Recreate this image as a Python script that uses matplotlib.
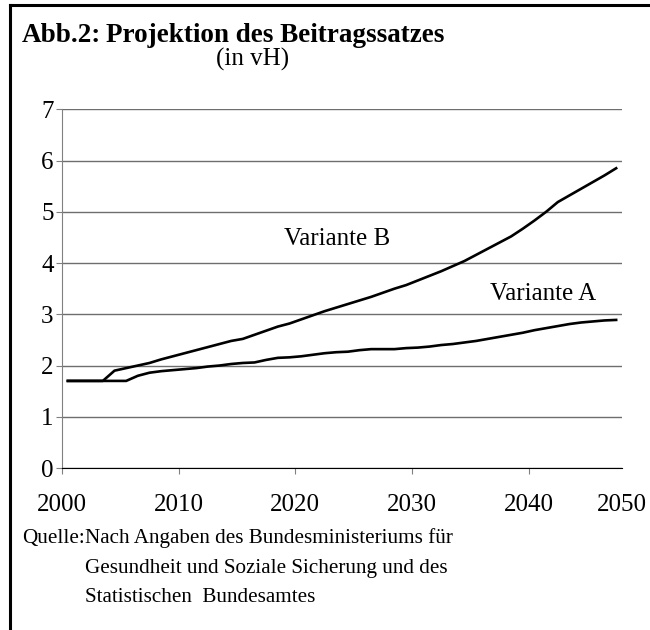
import numpy as np
import matplotlib
matplotlib.use("Agg")
import matplotlib.pyplot as plt
from matplotlib.lines import Line2D

plt.rcParams.update({'font.family': 'Liberation Serif', 'font.size': 18})

# Jahre 2001..2048, je Kategorie in der Mitte gezeichnet
years = np.arange(2001, 2049)
variante_a = [1.70, 1.70, 1.70, 1.70, 1.70, 1.70, 1.80, 1.86, 1.89, 1.91,
              1.93, 1.95, 1.98, 2.00, 2.03, 2.05, 2.06, 2.11, 2.15, 2.16,
              2.18, 2.21, 2.24, 2.26, 2.27, 2.30, 2.32, 2.32, 2.32, 2.34,
              2.35, 2.37, 2.40, 2.42, 2.45, 2.48, 2.52, 2.56, 2.60, 2.64,
              2.69, 2.73, 2.77, 2.81, 2.84, 2.86, 2.88, 2.89]
variante_b = [1.70, 1.70, 1.70, 1.70, 1.90, 1.95, 2.00, 2.05, 2.12, 2.18,
              2.24, 2.30, 2.36, 2.42, 2.48, 2.52, 2.60, 2.68, 2.76, 2.82,
              2.90, 2.98, 3.06, 3.13, 3.20, 3.27, 3.34, 3.42, 3.50, 3.57,
              3.66, 3.75, 3.84, 3.94, 4.04, 4.16, 4.28, 4.40, 4.52, 4.67,
              4.83, 5.00, 5.19, 5.32, 5.45, 5.58, 5.71, 5.85]
x_ticks = [2000, 2010, 2020, 2030, 2040, 2048]
x_labels = ["2000", "2010", "2020", "2030", "2040", "2050"]
y_ticks = [0, 1, 2, 3, 4, 5, 6, 7]

fig = plt.figure(figsize=(6.5, 6.3), dpi=100)
ax = fig.add_axes([0.0954, 0.2571, 0.8615, 0.5694])

x = years - 0.5
ax.plot(x, variante_a, color='black', lw=1.9, solid_joinstyle='round')
ax.plot(x, variante_b, color='black', lw=1.9, solid_joinstyle='round')

ax.set_xlim(2000, 2048)
ax.set_ylim(0, 7)
ax.set_yticks(y_ticks)
ax.set_xticks(x_ticks)
ax.set_xticklabels(x_labels)
ax.xaxis.get_major_ticks()[-1].tick1line.set_visible(False)

ax.grid(axis='y', color='#6e6e6e', lw=1.0)
ax.set_axisbelow(True)
for s in ['top', 'right']:
    ax.spines[s].set_visible(False)
ax.spines['left'].set_color('#808080')
ax.spines['bottom'].set_color('black')
ax.tick_params(axis='y', length=4, pad=2, color='#808080')
ax.tick_params(axis='x', length=4, pad=15, color='#808080')

ax.text(2023.6, 4.47, "Variante B", ha='center', va='center', fontsize=18)
ax.text(2041.2, 3.40, "Variante A", ha='center', va='center', fontsize=18)

# Titel und Quelle
fig.text(22 / 650, 1 - 42 / 630, "Abb.2:", fontsize=19.5, fontweight='bold', va='baseline')
fig.text(106 / 650, 1 - 42 / 630, "Projektion des Beitragssatzes", fontsize=19.5,
         fontweight='bold', va='baseline')
fig.text(216 / 650, 1 - 66 / 630, "(in vH)", fontsize=18, va='baseline')

fig.text(22 / 650, 1 - 538 / 630, "Quelle:", fontsize=15.2, va='center')
src = ["Nach Angaben des Bundesministeriums für",
       "Gesundheit und Soziale Sicherung und des",
       "Statistischen  Bundesamtes"]
for i, line in enumerate(src):
    fig.text(85 / 650, 1 - (538 + 30 * i) / 630, line, fontsize=15.2, va='center')

# Rahmen oben und links
fig.add_artist(Line2D([10 / 650, 10 / 650], [0, 1 - 4.7 / 630], transform=fig.transFigure,
                      color='black', lw=2.2))
fig.add_artist(Line2D([10 / 650, 1], [1 - 4.7 / 630, 1 - 4.7 / 630], transform=fig.transFigure,
                      color='black', lw=2.2))

fig.savefig("out.png", dpi=100)
